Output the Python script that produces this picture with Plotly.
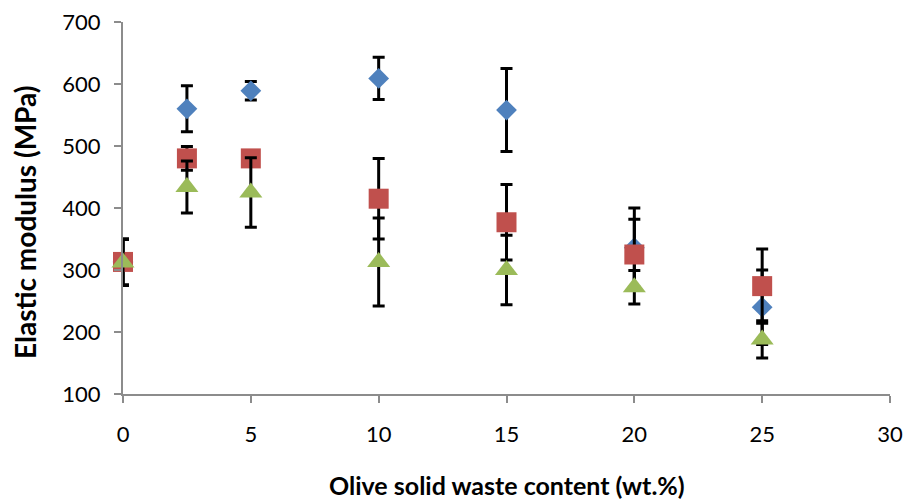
import plotly.graph_objects as go

x_vals = [0, 2.5, 5, 10, 15, 20, 25]

blue_vals = [313, 560, 589, 609, 558, 336, 240]
blue_err = [37, 37, 15, 34, 67, 64, 60]

red_vals = [313, 480, 480, 415, 377, 325, 274]
red_err = [37, 19, 10, 65, 61, 57, 60]

green_vals = [312, 434, 425, 313, 300, 272, 188]
green_err = [37, 42, 56, 71, 56, 27, 30]

x_ticks = [0, 5, 10, 15, 20, 25, 30]
y_ticks = [100, 200, 300, 400, 500, 600, 700]

x_title = "Olive solid waste content (wt.%)"
y_title = "Elastic modulus (MPa)"

FONT = "Lato"

fig = go.Figure()

def add_series(y, err, color, symbol, size):
    fig.add_trace(go.Scatter(
        x=x_vals, y=y, mode="markers",
        marker=dict(color=color, symbol=symbol, size=size, line=dict(width=0)),
        error_y=dict(type="data", array=err, visible=True, color="black",
                     thickness=3, width=6),
        showlegend=False, cliponaxis=False,
    ))

add_series(blue_vals, blue_err, "#4F81BD", "diamond", 16)
add_series(red_vals, red_err, "#C0504D", "square", 20)
add_series(green_vals, green_err, "#9BBB59", "triangle-up", 20)

fig.update_layout(
    width=907, height=499,
    margin=dict(l=123, r=17, t=22, b=105),
    plot_bgcolor="white", paper_bgcolor="white",
    font=dict(family=FONT, size=22, color="black"),
    annotations=[
        dict(text="<b>" + x_title + "</b>", xref="paper", yref="paper",
             x=0.5, y=-0.245, showarrow=False, xanchor="center", yanchor="middle",
             font=dict(family=FONT, size=25)),
        dict(text="<b>" + y_title + "</b>", xref="paper", yref="paper",
             x=-0.1278, y=0.4624, showarrow=False, xanchor="center", yanchor="middle",
             textangle=-90, font=dict(family=FONT, size=28)),
    ],
)
fig.update_xaxes(
    range=[0, 30], tickvals=x_ticks, showgrid=False, zeroline=False,
    showline=True, linecolor="#8c8c8c", linewidth=2,
    ticks="outside", ticklen=7, tickcolor="#8c8c8c", tickwidth=2,
    tickfont=dict(family=FONT, size=22), automargin=False,
    ticklabeloverflow="allow", ticklabelstandoff=13,
)
fig.update_yaxes(
    range=[100, 700], tickvals=y_ticks, showgrid=False, zeroline=False,
    showline=True, linecolor="#8c8c8c", linewidth=2,
    ticks="outside", ticklen=7, tickcolor="#8c8c8c", tickwidth=2,
    tickfont=dict(family=FONT, size=22), automargin=False,
    ticklabeloverflow="allow", ticklabelstandoff=9,
)

fig.write_html("out.html", config={"displayModeBar": False},
               post_script="document.body.style.margin='0';")
